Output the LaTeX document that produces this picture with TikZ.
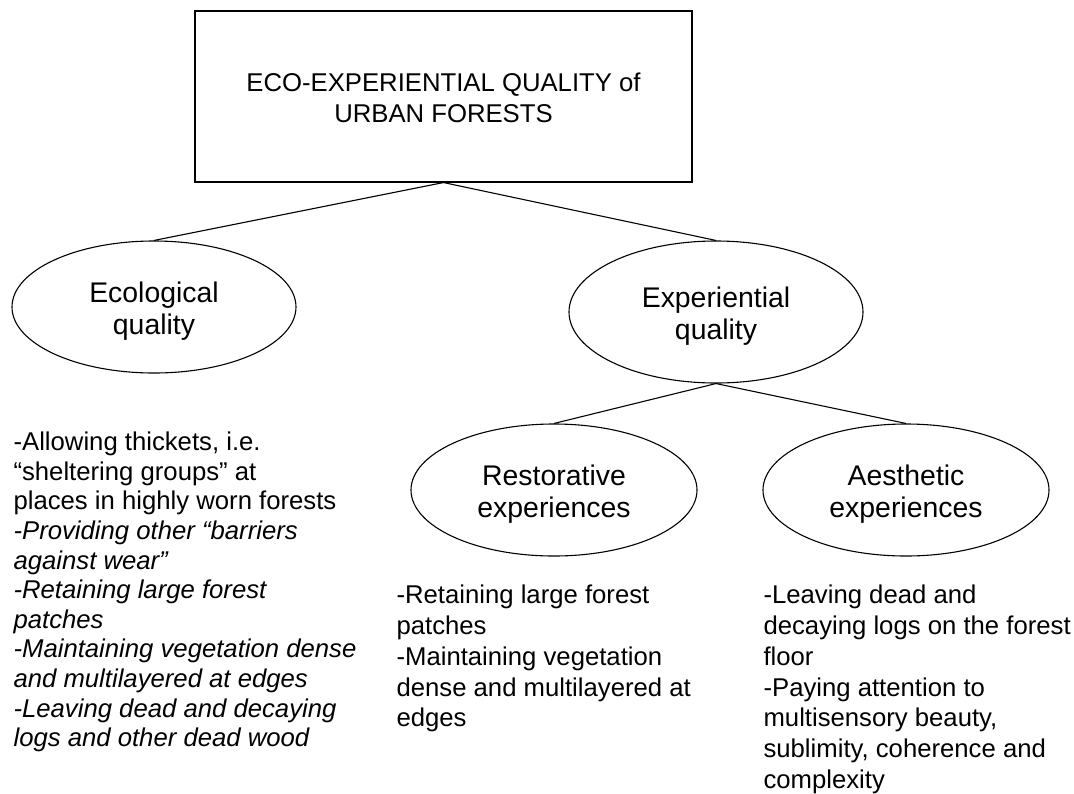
\documentclass[tikz,border=0pt]{standalone}
\usepackage{fontspec}
\setmainfont{Liberation Sans}
\usepackage{tikz}
\usetikzlibrary{shapes.geometric}

\begin{document}
\begin{tikzpicture}[x=1pt, y=-1pt, line width=1.1pt,
    quality/.style={draw, ellipse, inner sep=0pt},
    qlabel/.style={yshift=-4.5pt, align=center, font=\fontsize{28.4}{32}\selectfont},
    measure/.style={anchor=north west, inner sep=0pt, align=left}]
    \useasboundingbox (0,0) rectangle (1074,793);
    % \draw[red] (0,0) rectangle (1074,793);
        \node[draw, minimum width=497pt, minimum height=171pt,
              label={[yshift=-1.8pt, align=center, font=\fontsize{25.7}{31}\selectfont]center:ECO-EXPERIENTIAL QUALITY of\\URBAN FORESTS}]
              (eeq) at (443.5, 96.5) {};
        \node[quality, minimum width=284pt, minimum height=132pt, label={[qlabel]center:Ecological\\quality}] (ecol) at (154, 307) {};
        \node[quality, minimum width=294pt, minimum height=142pt, label={[qlabel]center:Experiential\\quality}] (expq) at (716, 312) {};
        \node[quality, minimum width=286pt, minimum height=132pt, label={[qlabel]center:Restorative\\experiences}] (resto) at (554, 490) {};
        \node[quality, minimum width=286pt, minimum height=132pt, label={[qlabel]center:Aesthetic\\experiences}] (aesth) at (906, 490) {};
        \draw (eeq.south) -- (ecol.north);
        \draw (eeq.south) -- (expq.north);
        \draw (expq.south) -- (resto.north);
        \draw (expq.south) -- (aesth.north);
        \node[measure, font=\fontsize{25.7}{29.6}\selectfont] (ecoltext) at (13, 431.6)
              {-Allowing thickets, i.e.\\
               “sheltering groups” at\\
               places in highly worn forests\\
               \itshape -Providing other “barriers\\
               \itshape against wear”\\
               \itshape -Retaining large forest\\
               \itshape patches\\
               \itshape -Maintaining vegetation dense\\
               \itshape and multilayered at edges\\
               \itshape -Leaving dead and decaying\\
               \itshape logs and other dead wood};
        \node[measure, font=\fontsize{25.7}{30.8}\selectfont] (restotext) at (396, 584.6)
              {-Retaining large forest\\
               patches\\
               -Maintaining vegetation\\
               dense and multilayered at\\
               edges};
        \node[measure, font=\fontsize{25.7}{30.8}\selectfont] (aesthtext) at (763, 584.6)
              {-Leaving dead and\\
               decaying logs on the forest\\
               floor\\
               -Paying attention to\\
               multisensory beauty,\\
               sublimity, coherence and\\
               complexity};
    \end{tikzpicture}
\end{document}
